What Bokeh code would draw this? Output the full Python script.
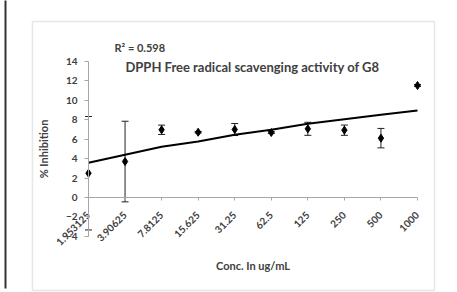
import math
from bokeh.plotting import figure
from bokeh.models import (Range1d, FixedTicker, Label, BoxAnnotation, Whisker,
                          ColumnDataSource, TeeHead)
from bokeh.embed import file_html
from bokeh.resources import INLINE

categories = ["1.953125", "3.90625", "7.8125", "15.625", "31.25",
              "62.5", "125", "250", "500", "1000"]
inhibition = [2.5, 3.7, 6.97, 6.72, 7.0, 6.69, 7.07, 6.93, 6.11, 11.53]
error = [5.84, 4.15, 0.48, 0.08, 0.62, 0.1, 0.67, 0.53, 1.0, 0.1]
trend = [3.57, 4.40, 5.22, 5.77, 6.46, 6.97, 7.59, 8.06, 8.52, 8.96]
y_ticks = [-4, -2, 0, 2, 4, 6, 8, 10, 12, 14]

xs = list(range(len(categories)))
src = ColumnDataSource(dict(
    x=xs, y=inhibition,
    upper=[v + e for v, e in zip(inhibition, error)],
    lower=[v - e for v, e in zip(inhibition, error)],
    trend=trend,
))

W, H = 457, 292
# pixel layout of the plot area inside the canvas
X0_PX, X9_PX = 88.0, 417.0
Y0_PX, Y14_PX = 197.0, 61.0
ppx = (X9_PX - X0_PX) / 9.0
ppy = (Y0_PX - Y14_PX) / 14.0

TXT = "#404040"
FONT = "Lato"
AX = "#a6a6a6"

p = figure(width=W, height=H, output_backend="svg", toolbar_location=None,
           x_range=Range1d(-X0_PX / ppx, 9 + (W - X9_PX) / ppx),
           y_range=Range1d(-(H - Y0_PX) / ppy, 14 + Y14_PX / ppy),
           min_border_left=0, min_border_right=0,
           min_border_top=0, min_border_bottom=0)
p.outline_line_color = None
p.xgrid.grid_line_color = None
p.ygrid.grid_line_color = None
p.background_fill_color = "white"
p.border_fill_color = "white"

# y axis
ya = p.yaxis[0]
ya.fixed_location = 0
ya.bounds = (-4, 14)
ya.ticker = FixedTicker(ticks=y_ticks)
ya.axis_label = "% Inhibition"
ya.axis_label_text_font = FONT
ya.axis_label_text_font_style = "bold"
ya.axis_label_text_font_size = "11px"
ya.axis_label_text_color = TXT
ya.axis_label_standoff = 13
ya.major_label_text_font = FONT
ya.major_label_text_font_style = "bold"
ya.major_label_text_font_size = "10px"
ya.major_label_text_color = TXT
ya.major_label_standoff = 7
ya.axis_line_color = AX
ya.major_tick_line_color = AX
ya.major_tick_in = 0
ya.major_tick_out = 4
ya.minor_tick_line_color = None

# x axis
xa = p.xaxis[0]
xa.fixed_location = 0
xa.bounds = (0, len(categories) - 1)
xa.ticker = FixedTicker(ticks=xs)
xa.major_label_overrides = {i: c for i, c in enumerate(categories)}
xa.major_label_orientation = math.pi / 4
xa.axis_label = "Conc. In ug/mL"
xa.axis_label_text_font = FONT
xa.axis_label_text_font_style = "bold"
xa.axis_label_text_font_size = "11px"
xa.axis_label_text_color = TXT
xa.axis_label_standoff = 7
xa.major_label_text_font = FONT
xa.major_label_text_font_style = "bold"
xa.major_label_text_font_size = "10px"
xa.major_label_text_color = TXT
xa.major_label_standoff = 13
xa.axis_line_color = AX
xa.major_tick_line_color = AX
xa.major_tick_in = 0
xa.major_tick_out = 3
xa.minor_tick_line_color = None

# trendline
p.line("x", "trend", source=src, line_color="black", line_width=2)

# error bars
w = Whisker(source=src, base="x", upper="upper", lower="lower",
            line_color="#222222", line_width=1,
            upper_head=TeeHead(size=7, line_color="#222222", line_width=1),
            lower_head=TeeHead(size=7, line_color="#222222", line_width=1))
p.add_layout(w)

# points
p.scatter("x", "y", source=src, marker="diamond", size=8,
          fill_color="black", line_color="black")

# titles
p.add_layout(Label(x=252, y=66, x_units="canvas", y_units="canvas",
                   text="DPPH Free radical scavenging activity of G8",
                   text_align="center", text_baseline="middle",
                   text_font=FONT, text_font_style="bold",
                   text_font_size="13px", text_color=TXT))
p.add_layout(Label(x=114, y=47, x_units="canvas", y_units="canvas",
                   text="R² = 0.598",
                   text_align="left", text_baseline="middle",
                   text_font=FONT, text_font_style="bold",
                   text_font_size="11px", text_color=TXT))

# chart area border and page edge line
p.add_layout(BoxAnnotation(left=32, right=434, top=21, bottom=290,
                           left_units="canvas", right_units="canvas",
                           top_units="canvas", bottom_units="canvas",
                           fill_alpha=0, line_color="#b0b0b0", line_width=1.5))
p.add_layout(BoxAnnotation(left=4, right=6, top=-1, bottom=288,
                           left_units="canvas", right_units="canvas",
                           top_units="canvas", bottom_units="canvas",
                           fill_color="#333333", fill_alpha=1,
                           line_color=None, level="overlay"))

open("out.html", "w").write(file_html(p, INLINE))
